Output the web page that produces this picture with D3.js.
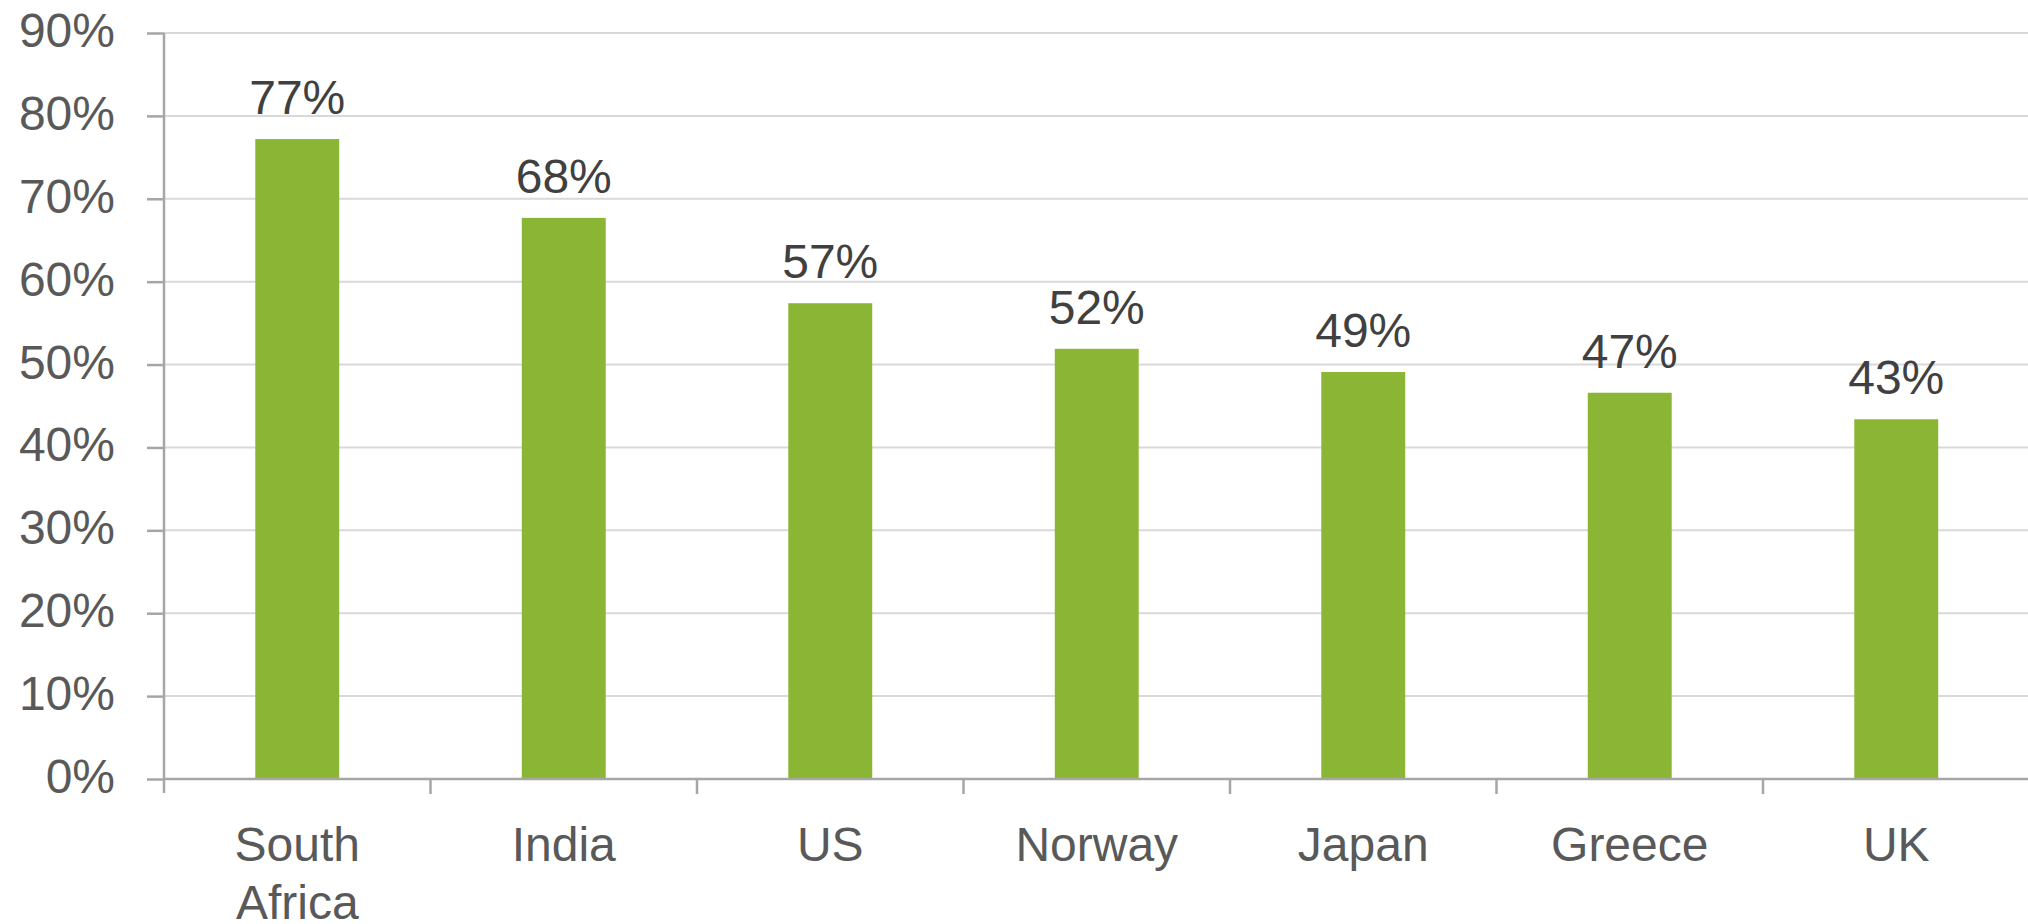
<!DOCTYPE html>
<html>
<head>
<meta charset="utf-8">
<script src="https://cdn.jsdelivr.net/npm/d3@7"></script>
<style>
  html, body { margin: 0; padding: 0; background: #ffffff; }
  svg { display: block; }
</style>
</head>
<body>
<svg id="chart" width="2028" height="924"></svg>
<script>
// Share of respondents by country (fraction of 1)
const countries = ["South Africa", "India", "US", "Norway", "Japan", "Greece", "UK"];
const shares = [0.772, 0.677, 0.574, 0.519, 0.491, 0.466, 0.434];
const yTicks = [0, 0.1, 0.2, 0.3, 0.4, 0.5, 0.6, 0.7, 0.8, 0.9];

(function drawChart() {
  const svg = d3.select("#chart");
  const fontFamily = "'Liberation Sans', Arial, sans-serif";

  const plotLeft = 164, plotRight = 2029.5, plotTop = 33, plotBottom = 779;

  const x = d3.scaleBand()
    .domain(countries)
    .range([plotLeft, plotRight])
    .paddingInner(0.685)
    .paddingOuter(0.3425);

  const y = d3.scaleLinear().domain([0, 0.9]).range([plotBottom, plotTop]);
  const pct = d3.format(".0%");

  // Horizontal gridlines
  svg.append("g")
    .selectAll("line")
    .data(yTicks.filter(d => d > 0))
    .join("line")
    .attr("x1", plotLeft)
    .attr("x2", 2028)
    .attr("y1", d => y(d))
    .attr("y2", d => y(d))
    .attr("stroke", "#d9d9d9")
    .attr("stroke-width", 2);

  // Bars
  svg.append("g")
    .selectAll("rect")
    .data(countries)
    .join("rect")
    .attr("x", d => x(d))
    .attr("width", x.bandwidth())
    .attr("y", (d, i) => y(shares[i]))
    .attr("height", (d, i) => y(0) - y(shares[i]))
    .attr("fill", "#8bb635");

  // Value labels above the bars
  svg.append("g")
    .selectAll("text")
    .data(countries)
    .join("text")
    .attr("x", d => x(d) + x.bandwidth() / 2)
    .attr("y", (d, i) => y(shares[i]) - 25)
    .attr("text-anchor", "middle")
    .attr("font-family", fontFamily)
    .attr("font-size", 48)
    .attr("fill", "#404040")
    .text((d, i) => pct(shares[i]));

  // Y axis
  const yAxis = d3.axisLeft(y)
    .tickValues(yTicks)
    .tickFormat(pct)
    .tickSizeInner(17)
    .tickSizeOuter(0)
    .tickPadding(32);

  const gy = svg.append("g")
    .attr("transform", `translate(${plotLeft},0)`)
    .call(yAxis);
  gy.select(".domain").remove();
  gy.selectAll(".tick line").attr("stroke", "#a6a6a6").attr("stroke-width", 2.5);
  gy.selectAll(".tick text")
    .attr("font-family", fontFamily)
    .attr("font-size", 48)
    .attr("fill", "#595959")
    .attr("dy", "0.28em");

  // Vertical axis line, extending slightly below the baseline
  svg.append("line")
    .attr("x1", plotLeft).attr("x2", plotLeft)
    .attr("y1", plotTop).attr("y2", plotBottom + 14)
    .attr("stroke", "#a6a6a6")
    .attr("stroke-width", 2.5);

  // X axis baseline
  svg.append("line")
    .attr("x1", plotLeft).attr("x2", 2028)
    .attr("y1", plotBottom).attr("y2", plotBottom)
    .attr("stroke", "#a6a6a6")
    .attr("stroke-width", 2.5);

  // Category separator ticks between bands
  const step = x.step();
  svg.append("g")
    .selectAll("line")
    .data(countries.slice(1))
    .join("line")
    .attr("x1", d => x(d) - step * x.paddingInner() / 2)
    .attr("x2", d => x(d) - step * x.paddingInner() / 2)
    .attr("y1", plotBottom)
    .attr("y2", plotBottom + 15)
    .attr("stroke", "#a6a6a6")
    .attr("stroke-width", 2.5);

  // Category labels (long names wrap onto two lines)
  const catLabels = svg.append("g")
    .selectAll("text")
    .data(countries)
    .join("text")
    .attr("x", d => x(d) + x.bandwidth() / 2)
    .attr("y", 861)
    .attr("text-anchor", "middle")
    .attr("font-family", fontFamily)
    .attr("font-size", 48)
    .attr("fill", "#595959");

  catLabels.each(function(d) {
    const words = d.split(" ");
    const t = d3.select(this);
    const cx = +t.attr("x");
    words.forEach((w, i) => {
      t.append("tspan")
        .attr("x", cx)
        .attr("dy", i === 0 ? 0 : 58)
        .text(w);
    });
  });
})();
</script>
</body>
</html>
